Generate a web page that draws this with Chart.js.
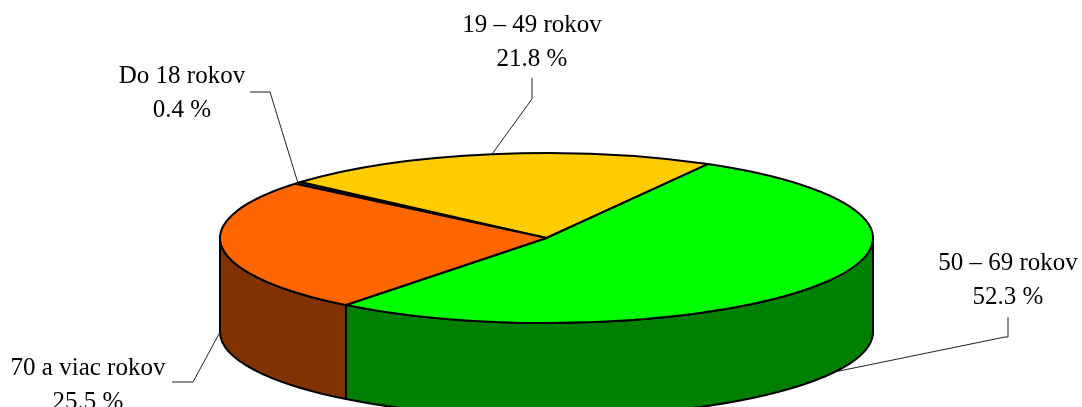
<!DOCTYPE html>
<html>
<head>
<meta charset="utf-8">
<script src="https://cdn.jsdelivr.net/npm/chart.js@4/dist/chart.umd.min.js"></script>
<style>
  html, body { margin: 0; padding: 0; background: #fff; }
  #wrap { width: 1082px; height: 407px; position: relative; }
</style>
</head>
<body>
<div id="wrap"><canvas id="c" width="1082" height="407"></canvas></div>
<script>
// ---- data ----
const categories = ["Do 18 rokov", "19 \u2013 49 rokov", "50 \u2013 69 rokov", "70 a viac rokov"];
const shares = [0.4, 21.8, 52.3, 25.5];
const topColors = ["#333399", "#FFCC00", "#00FF00", "#FF6600"];
const sideColors = ["#1A1A4D", "#806600", "#008000", "#803300"];

// ---- layout (positions / styles) ----
const GEOM = { rx: 326.5, ry: 85, depth: 94 };
const LABEL_LAYOUT = [
  { x: 182, y: 83,  path: [[250, 92], [270, 92]],   anchorDeg: null, level: "top" },
  { x: 532, y: 32,  path: [[532, 78], [532, 99]],   anchorDeg: null, level: "top" },
  { x: 1008, y: 270, path: [[1008, 317], [1008, 337], [1005, 337]], anchorDeg: 28, level: "bottom" },
  { x: 88,  y: 375, path: [[172, 382], [193, 382]], anchorDeg: 180, level: "bottom" }
];
const FONT = "25px 'Liberation Serif', 'Times New Roman', serif";
const LINE_H = 34;

const pie3d = {
  id: "pie3d",
  beforeDatasetsDraw(chart) {
    const ctx = chart.ctx;
    const arcs = chart.getDatasetMeta(0).data;
    if (!arcs.length) return false;
    const cx = arcs[0].x, cy = arcs[0].y;
    const { rx, ry, depth } = GEOM;
    ctx.save();
    ctx.lineWidth = 2;
    ctx.strokeStyle = "#000";
    ctx.lineJoin = "round";
    // side walls (front half only)
    arcs.forEach((a, i) => {
      const s = a.startAngle, e = a.endAngle;
      for (let k = -1; k <= 2; k++) {
        const lo = Math.max(s, 2 * Math.PI * k);
        const hi = Math.min(e, 2 * Math.PI * k + Math.PI);
        if (hi > lo) {
          ctx.beginPath();
          ctx.ellipse(cx, cy, rx, ry, 0, lo, hi, false);
          ctx.lineTo(cx + rx * Math.cos(hi), cy + depth + ry * Math.sin(hi));
          ctx.ellipse(cx, cy + depth, rx, ry, 0, hi, lo, true);
          ctx.closePath();
          ctx.fillStyle = sideColors[i];
          ctx.fill();
          ctx.stroke();
        }
      }
    });
    // top faces
    arcs.forEach((a, i) => {
      ctx.beginPath();
      ctx.moveTo(cx, cy);
      ctx.ellipse(cx, cy, rx, ry, 0, a.startAngle, a.endAngle, false);
      ctx.closePath();
      ctx.fillStyle = topColors[i];
      ctx.fill();
      ctx.stroke();
    });
    ctx.restore();
    return false;
  },
  afterDraw(chart) {
    const ctx = chart.ctx;
    const arcs = chart.getDatasetMeta(0).data;
    if (!arcs.length) return;
    const cx = arcs[0].x, cy = arcs[0].y;
    const { rx, ry, depth } = GEOM;
    ctx.save();
    // leader lines
    ctx.strokeStyle = "#222";
    ctx.lineWidth = 1;
    arcs.forEach((a, i) => {
      const L = LABEL_LAYOUT[i];
      const ang = L.anchorDeg === null ? (a.startAngle + a.endAngle) / 2 : L.anchorDeg * Math.PI / 180;
      const ay = (L.level === "bottom" ? cy + depth : cy) + ry * Math.sin(ang);
      const ax = cx + rx * Math.cos(ang);
      ctx.beginPath();
      ctx.moveTo(L.path[0][0], L.path[0][1]);
      for (let j = 1; j < L.path.length; j++) ctx.lineTo(L.path[j][0], L.path[j][1]);
      ctx.lineTo(ax, ay);
      ctx.stroke();
    });
    // texts
    ctx.fillStyle = "#000";
    ctx.font = FONT;
    ctx.textAlign = "center";
    ctx.textBaseline = "alphabetic";
    chart.data.labels.forEach((lab, i) => {
      const L = LABEL_LAYOUT[i];
      const v = chart.data.datasets[0].data[i];
      ctx.fillText(lab, L.x, L.y);
      ctx.fillText(v.toFixed(1) + " %", L.x, L.y + LINE_H);
    });
    ctx.restore();
  }
};

new Chart(document.getElementById("c"), {
  type: "pie",
  data: {
    labels: categories,
    datasets: [{ data: shares, backgroundColor: topColors, borderColor: "#000", borderWidth: 1 }]
  },
  options: {
    responsive: false,
    devicePixelRatio: 1,
    animation: false,
    rotation: -50.3,
    layout: { padding: { left: 11, right: 0, top: 69, bottom: 0 } },
    plugins: { legend: { display: false }, tooltip: { enabled: false } },
    events: []
  },
  plugins: [pie3d]
});
</script>
</body>
</html>
